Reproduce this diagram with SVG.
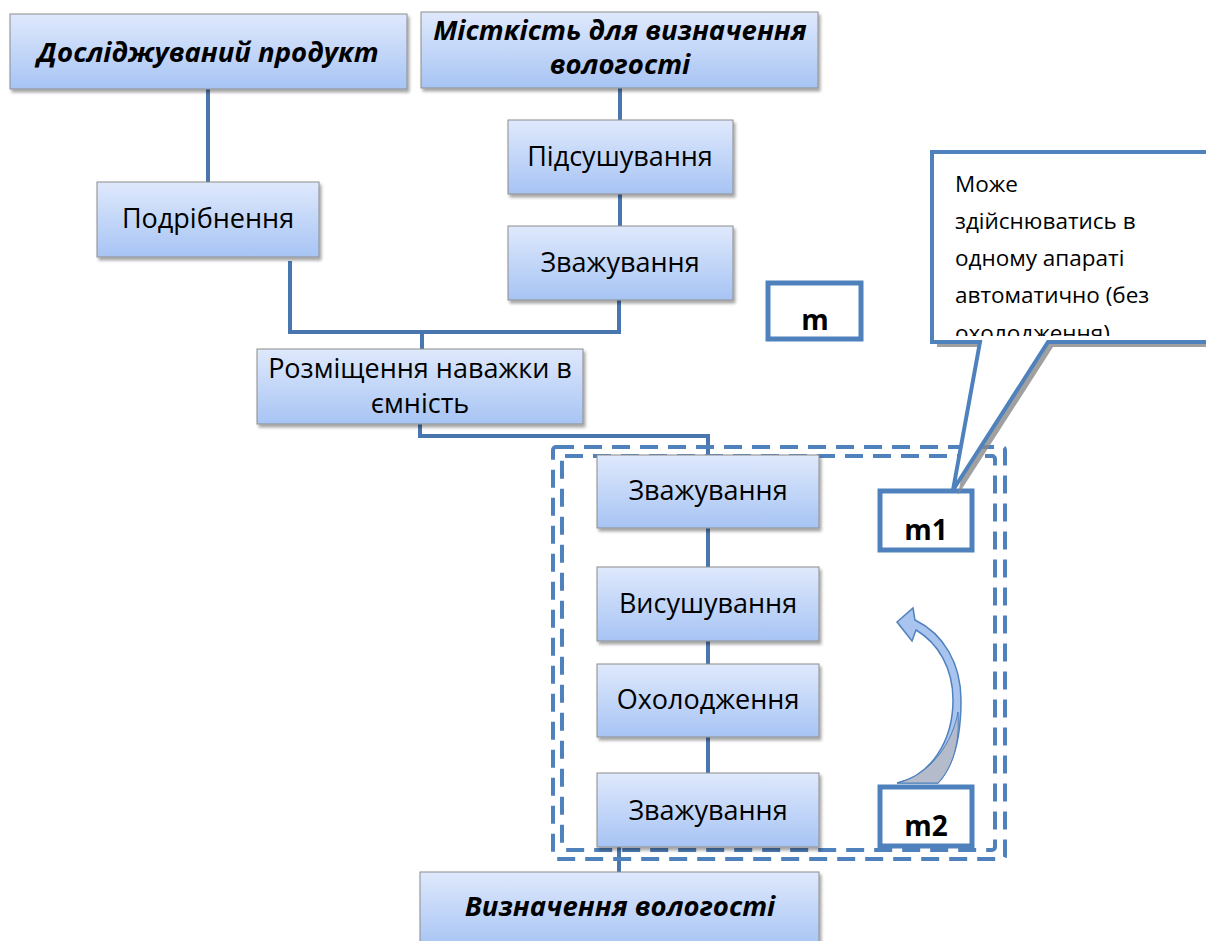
<svg xmlns="http://www.w3.org/2000/svg" width="1206" height="941" viewBox="0 0 1206 941">
<style>
.box{fill:url(#g);stroke:#8c8c8c;stroke-width:1;filter:url(#sh)}
.t{font-family:"Open Sans","Liberation Sans",Arial,sans-serif;font-size:27px;fill:#000;text-anchor:middle}
.h{font-family:"Open Sans","Liberation Sans",Arial,sans-serif;font-size:27.5px;font-weight:bold;font-style:italic;fill:#000;text-anchor:middle}
.c{fill:none;stroke:#4a76b0;stroke-width:4}
.lab{fill:#fff;stroke:#4f81bd;stroke-width:5}
.m{font-family:"Open Sans","Liberation Sans",Arial,sans-serif;font-size:28px;font-weight:bold;fill:#000;text-anchor:middle}
.d{fill:none;stroke:#4f81bd;stroke-width:4;stroke-dasharray:18 10}
.ct{font-family:"Open Sans","Liberation Sans",Arial,sans-serif;font-size:22.5px;fill:#000}
</style>
<defs>
<linearGradient id="g" x1="0" y1="0" x2="0" y2="1">
<stop offset="0" stop-color="#dfe9fc"/>
<stop offset="1" stop-color="#a7c4f4"/>
</linearGradient>
<filter id="sh" x="-10%" y="-10%" width="130%" height="140%">
<feDropShadow dx="2" dy="3" stdDeviation="1.5" flood-color="#000" flood-opacity="0.35"/>
</filter>
<clipPath id="cc"><rect x="935" y="155" width="271" height="181"/></clipPath>
</defs>
<rect width="1206" height="941" fill="#fff"/>

<g id="connectors">
<path class="c" d="M208,89 V182"/>
<path class="c" d="M620,88 V120"/>
<path class="c" d="M620,194 V226"/>
<path class="c" d="M288,263 H290 V332 H619 V300"/>
<path class="c" d="M422,332 V349"/>
<path class="c" d="M420,424 V436 H708 V455"/>
<path class="c" d="M708,528 V567"/>
<path class="c" d="M708,641 V664"/>
<path class="c" d="M708,737 V773"/>
<path class="c" d="M619,847 V872"/>
</g>

<g id="group-dashed">
<rect class="d" x="553" y="447" width="452" height="412" rx="3"/>
<rect class="d" x="562" y="456" width="433" height="394" rx="3"/>
</g>

<g id="n1"><rect class="box" x="10" y="14" width="397" height="75"/><text class="h" x="208" y="62">Досліджуваний продукт</text></g>
<g id="n2"><rect class="box" x="421" y="12" width="397" height="76"/><text class="h" x="620" y="40">Місткість для визначення</text><text class="h" x="620" y="74">вологості</text></g>
<g id="n3"><rect class="box" x="508" y="120" width="225" height="74"/><text class="t" x="620" y="166">Підсушування</text></g>
<g id="n4"><rect class="box" x="508" y="226" width="225" height="74"/><text class="t" x="620" y="272">Зважування</text></g>
<g id="n5"><rect class="box" x="97" y="182" width="222" height="75"/><text class="t" x="208" y="228">Подрібнення</text></g>
<g id="n6"><rect class="box" x="257" y="349" width="326" height="75"/><text class="t" x="420" y="378">Розміщення наважки в</text><text class="t" x="420" y="413">ємність</text></g>
<g id="n7"><rect class="box" x="597" y="455" width="222" height="73"/><text class="t" x="708" y="500">Зважування</text></g>
<g id="n8"><rect class="box" x="597" y="567" width="222" height="74"/><text class="t" x="708" y="613">Висушування</text></g>
<g id="n9"><rect class="box" x="597" y="664" width="222" height="73"/><text class="t" x="708" y="709">Охолодження</text></g>
<g id="n10"><rect class="box" x="597" y="773" width="222" height="74"/><text class="t" x="708" y="820">Зважування</text></g>
<g id="n11"><rect class="box" x="420" y="872" width="399" height="75"/><text class="h" x="620" y="916">Визначення вологості</text></g>

<g id="lab-m"><rect class="lab" x="768" y="283" width="93" height="56"/><text class="m" x="815" y="330">m</text></g>
<g id="lab-m1"><rect class="lab" x="880" y="491" width="92" height="59"/><text class="m" x="926" y="540">m1</text></g>
<g id="lab-m2"><rect class="lab" x="880" y="787" width="92" height="59"/><text class="m" x="926" y="836">m2</text></g>

<g id="callout">
<path d="M937,157 H1211 V347 H1053 L958,495 L985,347 H937 Z" fill="#888" opacity="0.8"/>
<path d="M932,152 H1208 V342 H1048 L953,490 L980,342 H932 Z" fill="#fff" stroke="#4f81bd" stroke-width="4"/>
<g clip-path="url(#cc)">
<text class="ct" x="955" y="192">Може</text>
<text class="ct" x="955" y="229">здійснюватись в</text>
<text class="ct" x="955" y="266">одному апараті</text>
<text class="ct" x="955" y="303">автоматично (без</text>
<text class="ct" x="955" y="341">охолодження)</text>
</g>
</g>

<g id="curved-arrow">
<path d="M897,783 C930,776 953,742 953,700 C953,668 938,643 916,630 L912,641 L897,622 L913,608 L915,620 C944,634 961,664 961,700 C961,742 952,768 938,783 Z" fill="#a9c4ee" stroke="#4f81bd" stroke-width="1.5"/>
<path d="M897,783 C930,776 953,742 958,712 C960,745 952,768 938,783 Z" fill="#b4bccc" stroke="#4f81bd" stroke-width="1"/>
</g>
</svg>
